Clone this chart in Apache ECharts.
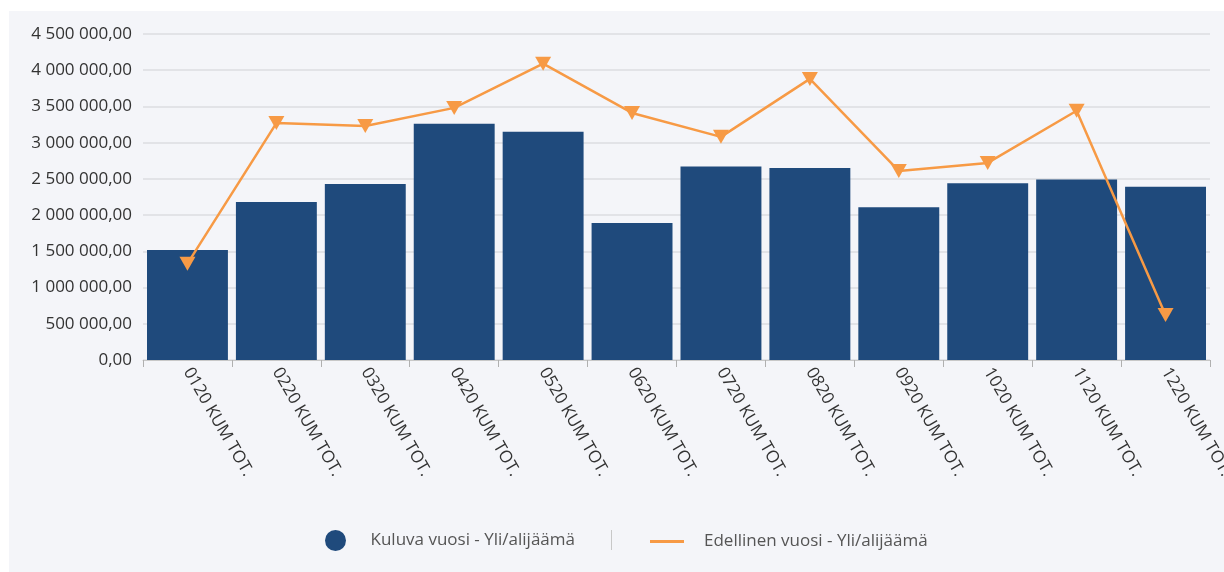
<!DOCTYPE html>
<html>
<head>
<meta charset="utf-8">
<script src="https://cdn.jsdelivr.net/npm/echarts@6/dist/echarts.min.js"></script>
<style>
  html, body { margin: 0; padding: 0; background: #fff; }
  #chartmain { width: 1224px; height: 572px; }
</style>
</head>
<body>
<div id="chartmain"></div>
<script>
// kuukaudet
var categories = ['0120 KUM TOT.', '0220 KUM TOT.', '0320 KUM TOT.', '0420 KUM TOT.', '0520 KUM TOT.', '0620 KUM TOT.',
                  '0720 KUM TOT.', '0820 KUM TOT.', '0920 KUM TOT.', '1020 KUM TOT.', '1120 KUM TOT.', '1220 KUM TOT.'];
// Kuluva vuosi - Yli/alijäämä
var kuluva = [1520000, 2180000, 2430000, 3260000, 3150000, 1890000, 2670000, 2650000, 2110000, 2440000, 2490000, 2390000];
// Edellinen vuosi - Yli/alijäämä
var edellinen = [1330000, 3270000, 3230000, 3480000, 4090000, 3410000, 3080000, 3880000, 2610000, 2720000, 3440000, 620000];
var yMax = 4500000;
var yStep = 500000;

function fiNumber(v) {
    var s = Math.round(v).toString().replace(/\B(?=(\d{3})+(?!\d))/g, ' ');
    return s + ',00';
}

var myChart = echarts.init(document.getElementById('chartmain'));

var font = '"Open Sans", "Noto Sans", sans-serif';

option = {
    backgroundColor: '#ffffff',
    animation: false,
    textStyle: { fontFamily: font },
    graphic: [
        {
            type: 'rect', z: -10, silent: true,
            shape: { x: 9, y: 11, width: 1215, height: 561 },
            style: { fill: '#f4f5f9' }
        },
        {
            type: 'line', silent: true,
            shape: { x1: 611.5, y1: 530, x2: 611.5, y2: 550 },
            style: { stroke: '#c8c8c8', lineWidth: 1 }
        }
    ],
    grid: { left: 143, right: 14, top: 34, bottom: 212, containLabel: false, outerBoundsMode: 'none' },
    legend: [
        {
            data: [{ name: 'Kuluva vuosi - Yli/alijäämä', icon: 'circle' }],
            left: 320, top: 525,
            itemWidth: 60, itemHeight: 21,
            textStyle: { fontSize: 17, color: '#555', fontFamily: font }
        },
        {
            data: [{ name: 'Edellinen vuosi - Yli/alijäämä', icon: 'rect' }],
            left: 645, top: 528,
            itemWidth: 34, itemHeight: 3,
            textStyle: { fontSize: 17, color: '#555', fontFamily: font, padding: [0, 0, 0, 15] }
        }
    ],
    xAxis: {
        type: 'category',
        data: categories,
        axisLine: { lineStyle: { color: '#c8c8c8' } },
        axisTick: { show: true, length: 7, lineStyle: { color: '#b0b0b0' } },
        axisLabel: { rotate: -60, margin: 9, fontSize: 17, color: '#333', fontFamily: font }
    },
    yAxis: {
        type: 'value',
        min: 0,
        max: yMax,
        interval: yStep,
        axisLine: { show: false },
        axisTick: { show: false },
        axisLabel: { fontSize: 17, color: '#333', margin: 11, fontFamily: font, formatter: fiNumber },
        splitLine: { lineStyle: { color: '#dcdde1', width: 1.5 } }
    },
    series: [
        {
            name: 'Kuluva vuosi - Yli/alijäämä',
            type: 'bar',
            data: kuluva,
            barCategoryGap: '9%',
            itemStyle: { color: '#1f4a7c' }
        },
        {
            name: 'Edellinen vuosi - Yli/alijäämä',
            type: 'line',
            data: edellinen,
            symbol: 'triangle',
            symbolRotate: 180,
            symbolSize: [16, 14],
            showSymbol: true,
            z: 5,
            lineStyle: { color: '#f79a45', width: 2.5 },
            itemStyle: { color: '#f79a45' }
        }
    ]
};

myChart.setOption(option);
</script>
</body>
</html>
